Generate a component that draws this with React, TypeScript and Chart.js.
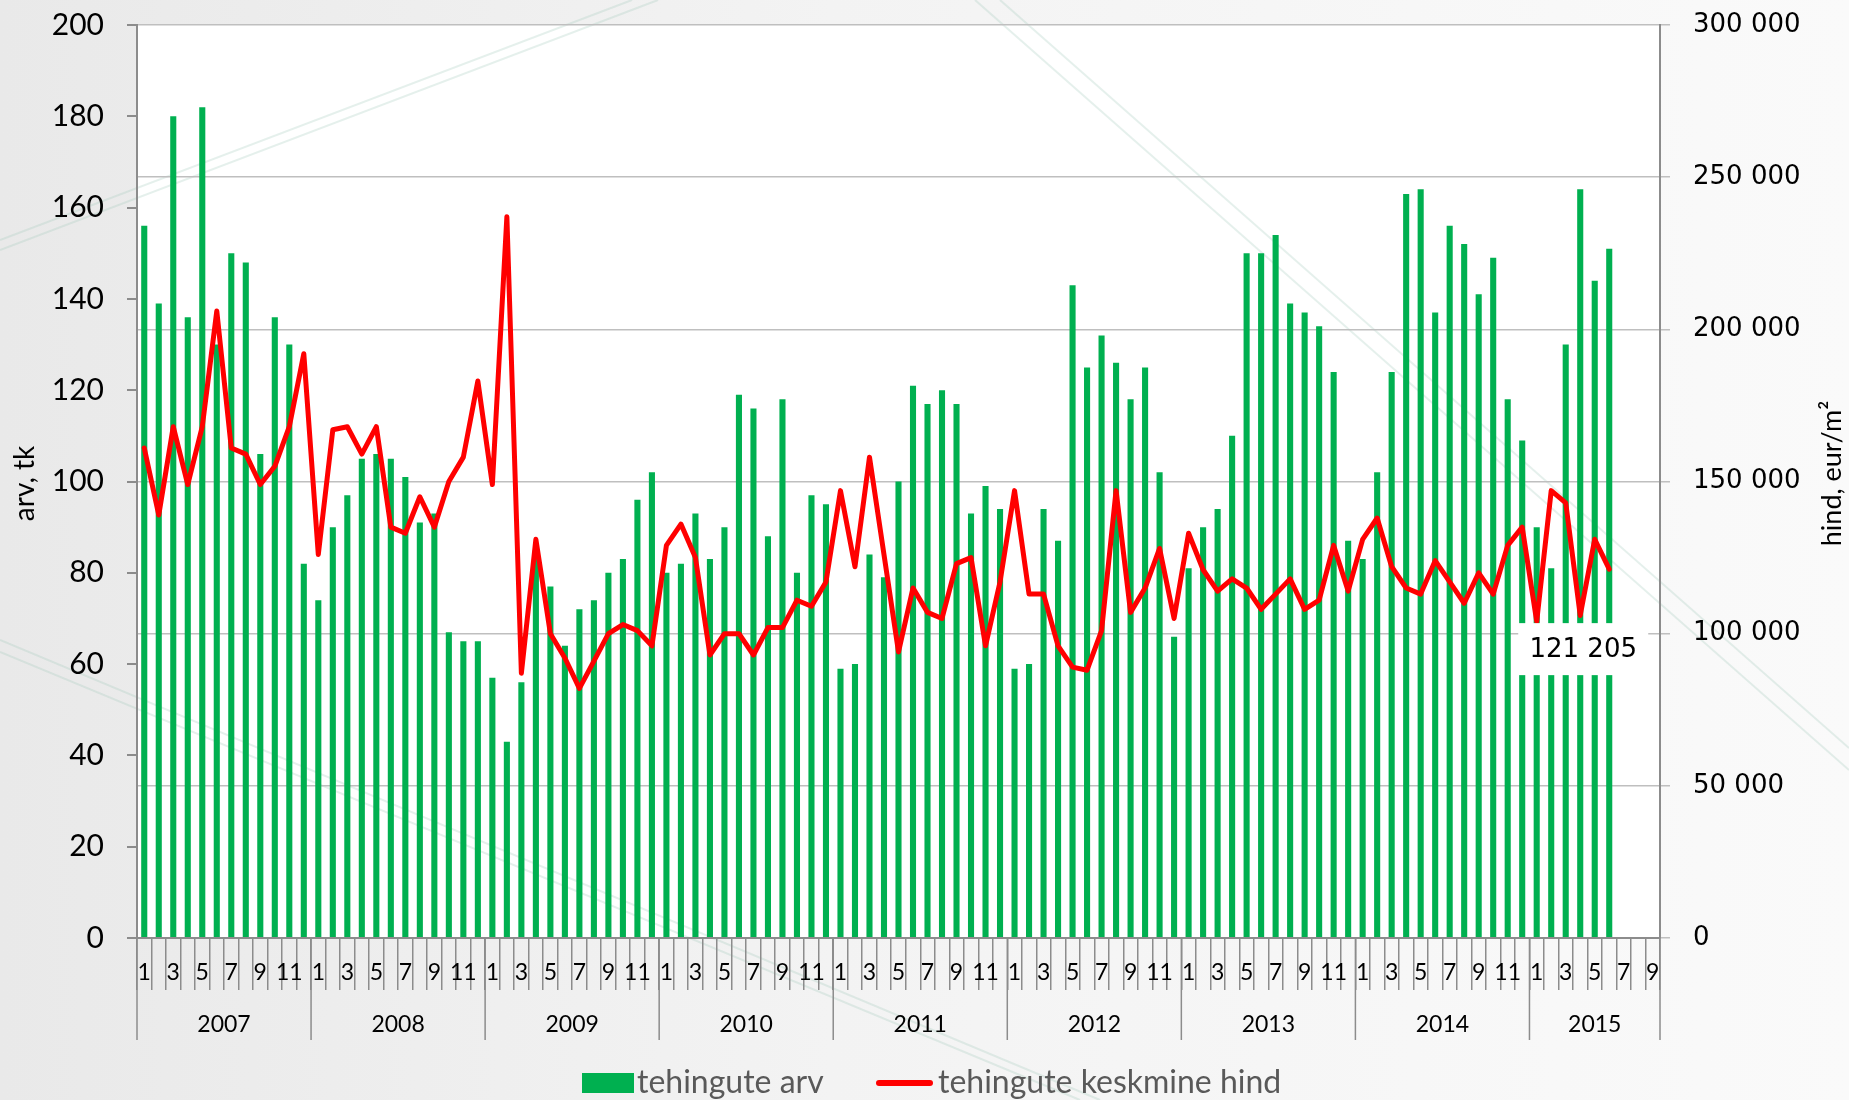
import React, { useEffect, useRef } from 'react';
import { Chart, registerables } from 'chart.js';

Chart.register(...registerables);

// ---- data ----
const years = ['2007', '2008', '2009', '2010', '2011', '2012', '2013', '2014', '2015'];
const monthsPerYear = [12, 12, 12, 12, 12, 12, 12, 12, 9];

const count2007 = [156, 139, 180, 136, 182, 130, 150, 148, 106, 136, 130, 82];
const count2008 = [74, 90, 97, 105, 106, 105, 101, 91, 93, 67, 65, 65];
const count2009 = [57, 43, 56, 85, 77, 64, 72, 74, 80, 83, 96, 102];
const count2010 = [80, 82, 93, 83, 90, 119, 116, 88, 118, 80, 97, 95];
const count2011 = [59, 60, 84, 79, 100, 121, 117, 120, 117, 93, 99, 94];
const count2012 = [59, 60, 94, 87, 143, 125, 132, 126, 118, 125, 102, 66];
const count2013 = [81, 90, 94, 110, 150, 150, 154, 139, 137, 134, 124, 87];
const count2014 = [83, 102, 124, 163, 164, 137, 156, 152, 141, 149, 118, 109];
const count2015 = [90, 81, 130, 164, 144, 151];

const price2007 = [161000, 139000, 168000, 149000, 168000, 206000, 161000, 159000, 149000, 155000, 168000, 192000];
const price2008 = [126000, 167000, 168000, 159000, 168000, 135000, 133000, 145000, 135000, 150000, 158000, 183000];
const price2009 = [149000, 237000, 87000, 131000, 100000, 92000, 82000, 91000, 100000, 103000, 101000, 96000];
const price2010 = [129000, 136000, 125000, 93000, 100000, 100000, 93000, 102000, 102000, 111000, 109000, 117000];
const price2011 = [147000, 122000, 158000, 126000, 94000, 115000, 107000, 105000, 123000, 125000, 96000, 117000];
const price2012 = [147000, 113000, 113000, 96000, 89000, 88000, 101000, 147000, 107000, 115000, 128000, 105000];
const price2013 = [133000, 121000, 114000, 118000, 115000, 108000, 113000, 118000, 108000, 111000, 129000, 114000];
const price2014 = [131000, 138000, 122000, 115000, 113000, 124000, 117000, 110000, 120000, 113000, 129000, 135000];
const price2015 = [104000, 147000, 143000, 106000, 131000, 121205];

const leftTicks = { min: 0, max: 200, step: 20 };
const rightTicks = { min: 0, max: 300000, step: 50000 };

const seriesNames = ['tehingute arv', 'tehingute keskmine hind'];
const axisTitles = ['arv, tk', 'hind, eur/m²'];

// ---- derived ----
const monthLabels: string[] = [];
monthsPerYear.forEach((n) => {
  for (let m = 1; m <= n; m++) monthLabels.push(String(m));
});
const total = monthLabels.length;
const pad = (arr: number[]) => arr.concat(Array(total - arr.length).fill(null));
const counts = pad([
  ...count2007, ...count2008, ...count2009, ...count2010, ...count2011,
  ...count2012, ...count2013, ...count2014, ...count2015,
]);
const prices = pad([
  ...price2007, ...price2008, ...price2009, ...price2010, ...price2011,
  ...price2012, ...price2013, ...price2014, ...price2015,
]);
const lastPriceIndex = prices.reduce((acc: number, v: any, i: number) => (v != null ? i : acc), 0);

const fmtSpace = (v: number) => String(Math.round(v)).replace(/\B(?=(\d{3})+(?!\d))/g, ' ');

const GREEN = '#00b050';
const RED = '#ff0000';
const AXIS = '#8c8c8c';

const decorPlugin = {
  id: 'decor',
  beforeDraw(chart: any) {
    const { ctx, chartArea: a } = chart;
    ctx.save();
    ctx.fillStyle = '#ffffff';
    ctx.fillRect(a.left, a.top, a.right - a.left, a.bottom - a.top);
    ctx.strokeStyle = 'rgba(160,200,185,0.28)';
    ctx.lineWidth = 2;
    const lines = [
      [0, 240, 632, 0], [0, 250, 658, 0],
      [975, 0, 1849, 770], [1000, 0, 1849, 748],
      [0, 640, 1100, 1100], [0, 652, 1080, 1100],
    ];
    lines.forEach(([x1, y1, x2, y2]) => {
      ctx.beginPath();
      ctx.moveTo(x1, y1);
      ctx.lineTo(x2, y2);
      ctx.stroke();
    });
    ctx.restore();
  },
};

const annotPlugin = {
  id: 'annot',
  afterDraw(chart: any) {
    const { ctx, chartArea: a, scales } = chart;
    const x = scales.x;
    const half = (x.getPixelForValue(1) - x.getPixelForValue(0)) / 2;
    ctx.save();
    // year separators and labels
    let start = 0;
    ctx.strokeStyle = AXIS;
    ctx.lineWidth = 1.5;
    ctx.fillStyle = '#000';
    ctx.font = '23px Lato, "Open Sans", sans-serif';
    ctx.textAlign = 'center';
    ctx.textBaseline = 'middle';
    monthsPerYear.forEach((n, yi) => {
      const left = x.getPixelForValue(start) - half;
      const right = x.getPixelForValue(start + n - 1) + half;
      ctx.beginPath();
      ctx.moveTo(left, a.bottom);
      ctx.lineTo(left, a.bottom + 102);
      ctx.stroke();
      if (yi === monthsPerYear.length - 1) {
        ctx.beginPath();
        ctx.moveTo(right, a.bottom);
        ctx.lineTo(right, a.bottom + 102);
        ctx.stroke();
      }
      ctx.fillText(years[yi], (left + right) / 2, a.bottom + 87);
      start += n;
    });

    // axis titles
    ctx.save();
    ctx.translate(25, (a.top + a.bottom) / 2 + 2);
    ctx.rotate(-Math.PI / 2);
    ctx.font = '28px Lato, "Open Sans", sans-serif';
    ctx.fillStyle = '#000';
    ctx.fillText(axisTitles[0], 0, 0);
    ctx.restore();
    ctx.save();
    ctx.translate(1832, (a.top + a.bottom) / 2 - 8);
    ctx.rotate(-Math.PI / 2);
    ctx.font = '27px Lato, "Open Sans", sans-serif';
    ctx.fillStyle = '#000';
    ctx.fillText(axisTitles[1], 0, 0);
    ctx.restore();

    // data label for the last price point
    const meta = chart.getDatasetMeta(1);
    const pt = meta.data[lastPriceIndex];
    if (pt) {
      const cx = pt.x - 26;
      const cy = pt.y + 80;
      ctx.fillStyle = '#ffffff';
      ctx.fillRect(cx - 65, cy - 26, 130, 52);
      ctx.fillStyle = '#000';
      ctx.font = '26px "DejaVu Sans", sans-serif';
      ctx.textAlign = 'center';
      ctx.textBaseline = 'middle';
      ctx.fillText(fmtSpace(prices[lastPriceIndex] as number), cx, cy + 1);
    }

    // legend
    const ly = 1083;
    ctx.fillStyle = GREEN;
    ctx.fillRect(582, ly - 10, 52, 20);
    ctx.strokeStyle = RED;
    ctx.lineWidth = 6;
    ctx.lineCap = 'round';
    ctx.beginPath();
    ctx.moveTo(879, ly);
    ctx.lineTo(930, ly);
    ctx.stroke();
    ctx.fillStyle = '#595959';
    ctx.font = '32px Lato, "Open Sans", sans-serif';
    ctx.textAlign = 'left';
    ctx.textBaseline = 'middle';
    ctx.fillText(seriesNames[0], 637, ly);
    ctx.fillText(seriesNames[1], 938, ly);
    ctx.restore();
  },
};

export default function App() {
  const ref = useRef<HTMLCanvasElement>(null);
  useEffect(() => {
    const chart = new Chart(ref.current as HTMLCanvasElement, {
      type: 'bar',
      data: {
        labels: monthLabels,
        datasets: [
          {
            type: 'bar',
            label: seriesNames[0],
            data: counts as any,
            backgroundColor: GREEN,
            borderWidth: 0,
            barPercentage: 0.42,
            categoryPercentage: 1,
            yAxisID: 'y',
            order: 2,
          },
          {
            type: 'line',
            label: seriesNames[1],
            data: prices as any,
            borderColor: RED,
            backgroundColor: RED,
            borderWidth: 5,
            pointRadius: 0,
            tension: 0,
            borderJoinStyle: 'round',
            borderCapStyle: 'round',
            spanGaps: false,
            yAxisID: 'y1',
            order: 1,
          } as any,
        ],
      },
      options: {
        responsive: false,
        animation: false,
        devicePixelRatio: 1,
        layout: { padding: { top: 25, left: 0, right: 0, bottom: 0 } },
        plugins: {
          legend: { display: false },
          tooltip: { enabled: false },
        },
        scales: {
          x: {
            type: 'category',
            offset: true,
            grid: {
              offset: true,
              drawOnChartArea: false,
              tickLength: 52,
              color: AXIS,
              lineWidth: 1.5,
            },
            border: { display: true, color: AXIS, width: 2 },
            ticks: {
              autoSkip: false,
              maxRotation: 0,
              minRotation: 0,
              padding: -31,
              color: '#000',
              font: { family: 'Lato, "Open Sans", sans-serif', size: 23 },
              callback: (_v: any, i: number) => (i % 2 === 0 ? monthLabels[i] : ''),
            },
            afterFit: (s: any) => { s.height = 162; },
          },
          y: {
            position: 'left',
            min: leftTicks.min,
            max: leftTicks.max,
            ticks: {
              stepSize: leftTicks.step,
              padding: 23,
              color: '#000',
              font: { family: 'Lato, "Open Sans", sans-serif', size: 30 },
            },
            grid: { drawOnChartArea: false, tickLength: 10, color: AXIS, lineWidth: 2 },
            border: { display: true, color: AXIS, width: 2 },
            afterFit: (s: any) => { s.width = 137; s.paddingTop = 0; s.paddingBottom = 0; },
          },
          y1: {
            position: 'right',
            min: rightTicks.min,
            max: rightTicks.max,
            ticks: {
              stepSize: rightTicks.step,
              padding: 23,
              color: '#000',
              font: { family: '"DejaVu Sans", sans-serif', size: 26 },
              callback: (v: any) => fmtSpace(Number(v)),
            },
            grid: {
              drawOnChartArea: true,
              tickLength: 10,
              color: '#bfbfbf',
              lineWidth: 1.5,
            },
            border: { display: true, color: AXIS, width: 2 },
            afterFit: (s: any) => { s.width = 189; s.paddingTop = 0; s.paddingBottom = 0; },
          },
        },
      } as any,
      plugins: [decorPlugin, annotPlugin],
    });
    return () => chart.destroy();
  }, []);

  return (
    <div
      style={{
        position: 'fixed',
        left: 0,
        top: 0,
        width: 1849,
        height: 1100,
        background: 'linear-gradient(90deg, #e9e9e9 0%, #f3f3f3 45%, #fafafa 100%)',
      }}
    >
      <canvas ref={ref} width={1849} height={1100} style={{ display: 'block' }} />
    </div>
  );
}
